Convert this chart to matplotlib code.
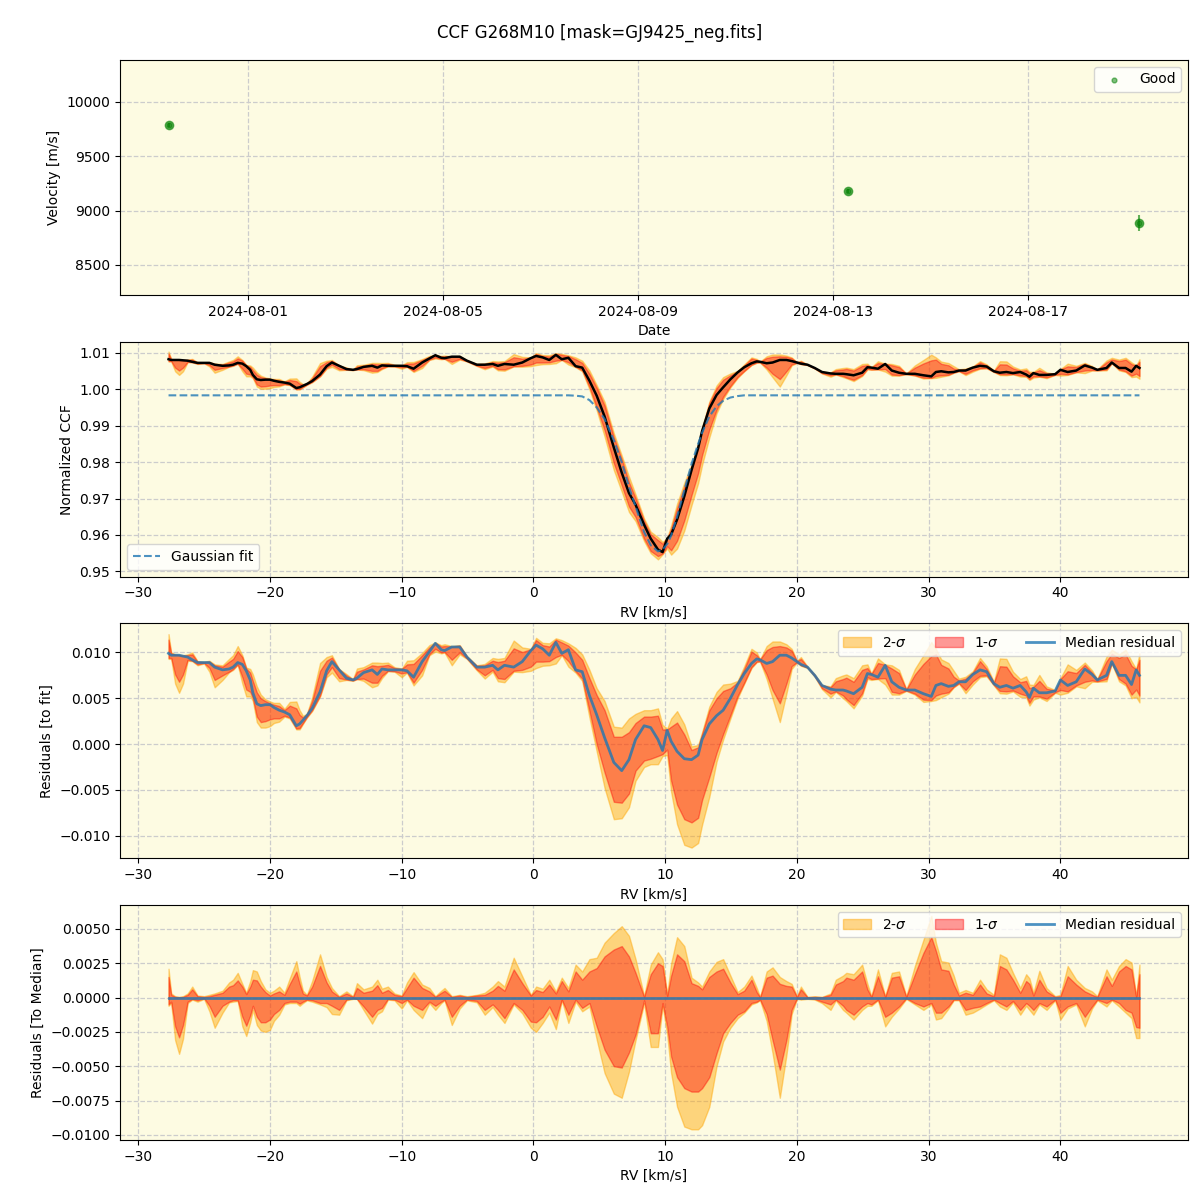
import datetime as dt
import matplotlib
matplotlib.use("Agg")
import matplotlib.pyplot as plt
import matplotlib.dates as mdates
import numpy as np

# ---- top panel: RV time series ----
obs_dates = [dt.datetime(2024, 7, 30, 8, 40), dt.datetime(2024, 8, 13, 7, 10), dt.datetime(2024, 8, 19, 6, 40)]
obs_vel = [9786, 9179, 8885]
obs_err = [20, 18, 72]

# ---- CCF profile (residual values in units of 1e-3) ----
rv = [-27.7, -27.5, -27.2, -26.9, -26.6, -26.25, -25.9, -25.5, -25.0, -24.6,
      -24.2, -23.6, -23.1, -22.8, -22.45, -22.1, -21.8, -21.5, -21.3, -21.0,
      -20.7, -20.35, -20.0, -19.7, -19.3, -18.9, -18.5, -18.0, -17.75, -17.5,
      -17.2, -16.8, -16.2, -15.7, -15.3, -14.75, -14.2, -13.7, -13.4, -12.9,
      -12.25, -11.85, -11.5, -11.05, -10.55, -10.0, -9.6, -9.1, -8.45, -7.9,
      -7.45, -7.0, -6.75, -6.2, -5.6, -5.05, -4.3, -3.7, -3.1, -2.7,
      -2.2, -1.5, -0.85, -0.2, 0.2, 0.7, 1.2, 1.7, 2.15, 2.65,
      3.2, 3.7, 4.25, 4.8, 5.4, 6.1, 6.7, 7.25, 7.75, 8.4,
      8.9, 9.45, 9.8, 10.15, 10.45, 10.9, 11.45, 12.0, 12.5, 12.8,
      13.35, 13.9, 14.4, 14.95, 15.5, 16.0, 16.55, 16.95, 17.2, 17.7,
      18.15, 18.7, 19.2, 19.6, 20.0, 20.3, 20.8, 21.35, 21.9, 22.55,
      22.95, 23.5, 23.75, 24.3, 24.95, 25.35, 25.65, 26.15, 26.7, 27.2,
      27.75, 28.3, 28.95, 29.6, 30.2, 30.55, 30.95, 31.5, 31.9, 32.3,
      32.8, 33.35, 33.9, 34.4, 34.95, 35.4, 35.9, 36.4, 36.95, 37.4,
      37.65, 37.95, 38.4, 38.95, 39.6, 40.0, 40.55, 41.2, 41.85, 42.4,
      42.8, 43.5, 43.9, 44.45, 44.95, 45.4, 45.75, 46.0]

# gaussian fit
gauss_fit = ([0.9983] * 70 +
             [0.9982, 0.9980, 0.9970, 0.9950, 0.9918, 0.9860, 0.9800, 0.9732, 0.9678, 0.9608,
              0.9572, 0.9555, 0.9560, 0.9575, 0.9598, 0.9650, 0.9722, 0.9795, 0.9850, 0.9880,
              0.9925, 0.9953, 0.9968, 0.9977, 0.9981] +
             [0.9983] * 63)

# median residual to the fit
resid_med = [9.9, 9.7, 9.7, 9.7, 9.6, 9.5, 9.2, 8.9, 8.9, 8.9,
             8.4, 8.1, 8.2, 8.4, 8.9, 8.7, 8.0, 7.0, 5.6, 4.4,
             4.2, 4.3, 4.3, 4.0, 3.7, 3.5, 3.2, 2.0, 2.2, 2.6,
             3.1, 3.9, 5.7, 8.0, 9.0, 8.1, 7.2, 7.0, 7.2, 7.8,
             8.1, 7.6, 8.2, 8.1, 8.1, 8.1, 8.0, 7.3, 9.0, 10.1,
             11.0, 10.3, 10.2, 10.6, 10.6, 9.5, 8.4, 8.4, 8.6, 8.1,
             8.6, 8.4, 9.0, 10.2, 10.8, 10.4, 9.7, 11.1, 9.9, 10.3,
             8.1, 7.9, 5.3, 3.2, 0.7, -2.0, -2.9, -1.7, 0.5, 2.0,
             1.8, 0.5, -0.7, 1.5, 0.3, -0.8, -1.6, -1.7, -1.2, 0.5,
             2.2, 3.1, 3.7, 5.0, 6.5, 7.7, 8.8, 9.3, 9.2, 8.8,
             9.0, 9.7, 9.7, 9.4, 9.0, 8.7, 8.4, 7.5, 6.4, 6.0,
             5.9, 5.9, 5.8, 5.5, 6.2, 7.7, 7.6, 7.3, 8.6, 6.8,
             6.2, 5.9, 5.9, 5.5, 5.2, 6.4, 6.6, 6.3, 6.4, 6.8,
             6.8, 7.6, 8.1, 7.9, 6.6, 6.2, 6.4, 6.1, 6.4, 5.7,
             5.1, 6.1, 5.6, 5.6, 5.8, 7.0, 6.4, 6.8, 8.2, 7.6,
             7.0, 7.5, 9.0, 7.5, 7.5, 6.5, 8.1, 7.5]

# percentile offsets relative to the median (bottom panel)
sig2_hi = [2.1, 0.3, 0.1, 0.05, 0.1, 0.3, 0.8, 0.15, 0.1, 0.2,
           0.3, 0.5, 1.1, 1.3, 1.8, 1.0, 0.35, 1.2, 2.0, 1.9,
           1.2, 0.6, 0.35, 0.5, 0.8, 0.35, 1.4, 2.65, 1.5, 0.5,
           0.2, 1.2, 3.15, 1.5, 0.7, 0.1, 0.45, 0.1, 1.05, 0.6,
           0.8, 1.3, 0.65, 0.8, 0.3, 0.15, 1.1, 1.85, 0.95, 0.7,
           0.1, 0.5, 0.7, 0.1, 0.2, 0.1, 0.2, 0.35, 0.8, 1.2,
           0.8, 2.9, 1.55, 0.2, 0.8, 0.65, 1.3, 0.45, 1.45, 0.7,
           2.4, 1.9, 2.8, 2.9, 4.0, 4.7, 5.2, 4.5, 2.8, 0.1,
           2.4, 3.3, 2.8, 0.2, 2.5, 4.4, 3.75, 1.45, 1.1, 0.8,
           1.9, 2.6, 2.8, 1.6, 0.4, 0.8, 1.6, 0.7, 0.05, 1.9,
           2.2, 1.5, 1.2, 1.0, 0.1, 0.8, 0.05, 0.1, 0.05, 0.3,
           1.3, 1.6, 1.8, 1.7, 2.4, 1.0, 0.1, 2.05, 0.1, 1.8,
           1.9, 0.1, 2.3, 4.2, 5.95, 4.0, 2.65, 2.55, 1.6, 0.35,
           0.55, 0.35, 1.3, 0.6, 0.2, 3.15, 2.9, 1.8, 0.7, 1.7,
           1.4, 0.35, 1.95, 0.7, 0.1, 0.2, 2.3, 1.3, 0.7, 0.45,
           0.1, 2.05, 1.3, 2.3, 2.8, 2.55, 0.1, 2.4]
sig1_hi = [1.5, 0.2, 0.05, 0.03, 0.05, 0.2, 0.6, 0.1, 0.05, 0.1,
           0.2, 0.35, 0.8, 0.9, 1.25, 0.8, 0.25, 0.8, 1.3, 1.25,
           0.8, 0.4, 0.15, 0.3, 0.45, 0.2, 1.0, 1.9, 1.0, 0.3,
           0.15, 0.8, 2.3, 1.1, 0.45, 0.05, 0.3, 0.05, 0.7, 0.35,
           0.5, 0.9, 0.35, 0.55, 0.2, 0.1, 0.7, 1.45, 0.7, 0.45,
           0.05, 0.35, 0.5, 0.05, 0.15, 0.05, 0.15, 0.2, 0.5, 0.85,
           0.5, 2.05, 1.05, 0.15, 0.55, 0.4, 0.95, 0.3, 1.2, 0.45,
           1.9, 1.3, 1.9, 2.15, 3.0, 3.5, 3.75, 3.0, 1.8, 0.05,
           1.7, 2.5, 2.3, 0.1, 1.6, 3.15, 2.65, 1.05, 0.85, 0.6,
           1.5, 1.9, 2.1, 1.1, 0.25, 0.5, 1.3, 0.4, 0.03, 1.45,
           1.6, 1.0, 0.85, 0.8, 0.05, 0.6, 0.03, 0.05, 0.03, 0.2,
           0.95, 1.2, 1.45, 1.3, 1.9, 0.6, 0.05, 1.55, 0.05, 1.45,
           1.55, 0.05, 1.7, 3.25, 4.4, 3.4, 2.05, 1.95, 0.95, 0.15,
           0.35, 0.2, 0.95, 0.3, 0.1, 2.3, 2.05, 1.3, 0.35, 1.2,
           1.0, 0.15, 1.3, 0.45, 0.05, 0.1, 1.55, 0.95, 0.45, 0.2,
           0.05, 1.55, 0.85, 1.9, 2.3, 2.05, 0.05, 1.7]
sig1_lo = [-0.5, -0.3, -2.1, -2.9, -2.0, -0.3, -0.1, -0.2, -0.05, -0.6,
           -1.4, -0.6, -0.3, -0.2, -0.2, -1.4, -2.05, -1.3, -0.6, -1.4,
           -1.8, -1.8, -1.6, -1.2, -0.9, -0.4, -0.3, -0.3, -0.45, -0.3,
           -0.15, -0.2, -0.4, -0.4, -0.6, -0.9, -0.15, -0.05, -0.1, -0.65,
           -1.4, -0.9, -0.75, -0.1, -0.15, -0.4, -0.15, -0.6, -0.9, -0.3,
           -0.6, -0.3, -0.15, -1.4, -0.6, -0.15, -0.25, -0.9, -0.5, -0.9,
           -1.5, -0.4, -0.9, -1.75, -1.8, -1.4, -0.65, -1.6, -0.15, -1.25,
           -0.15, -0.75, -0.4, -2.1, -3.8, -5.0, -5.1, -4.0, -2.7, -0.2,
           -2.6, -2.6, -0.4, -2.1, -4.3, -5.8, -6.6, -6.85, -6.85, -6.6,
           -5.8, -4.05, -2.6, -1.85, -1.25, -1.0, -0.4, -0.3, -0.15, -1.2,
           -3.1, -5.25, -3.1, -0.9, -0.05, -0.1, -0.05, -0.1, -0.3, -0.5,
           -0.15, -0.6, -0.9, -1.25, -0.65, -0.4, -0.5, -0.15, -1.4, -1.1,
           -0.65, -0.05, -0.4, -0.65, -0.4, -1.1, -1.1, -0.65, -0.15, -0.15,
           -0.9, -0.75, -0.65, -0.4, -0.15, -0.4, -0.65, -0.25, -0.9, -0.4,
           -0.6, -0.9, -0.4, -0.65, -0.15, -1.1, -0.65, -0.4, -1.4, -0.65,
           -0.15, -0.4, -0.15, -0.4, -0.9, -1.1, -2.15, -2.2]
sig2_lo = [-0.6, -0.4, -3.1, -4.1, -3.0, -0.4, -0.15, -0.3, -0.1, -1.0,
           -2.2, -1.1, -0.35, -0.3, -0.25, -2.1, -2.8, -1.8, -0.9, -2.0,
           -2.4, -2.5, -2.35, -1.7, -1.25, -0.5, -0.4, -0.4, -0.6, -0.4,
           -0.2, -0.3, -0.5, -0.7, -1.2, -1.25, -0.2, -0.1, -0.1, -0.9,
           -1.9, -1.2, -1.0, -0.15, -0.2, -0.8, -0.2, -0.9, -1.5, -0.4,
           -0.9, -0.4, -0.2, -2.0, -0.8, -0.2, -0.35, -1.25, -0.7, -1.25,
           -1.85, -0.5, -1.15, -2.2, -2.5, -1.85, -1.1, -2.3, -0.2, -1.85,
           -0.3, -1.0, -0.65, -3.05, -5.5, -7.0, -7.3, -5.4, -3.1, -0.4,
           -3.6, -3.6, -0.6, -2.7, -5.5, -7.95, -9.4, -9.6, -9.6, -9.3,
           -7.95, -5.0, -3.2, -2.2, -1.5, -1.1, -0.5, -0.35, -0.2, -1.7,
           -4.05, -7.3, -4.2, -1.2, -0.1, -0.15, -0.1, -0.15, -0.4, -0.9,
           -0.2, -0.9, -1.1, -1.6, -0.9, -0.6, -0.6, -0.2, -2.1, -1.4,
           -0.8, -0.1, -0.5, -0.9, -0.5, -1.6, -1.5, -0.8, -0.2, -0.2,
           -1.25, -1.1, -0.8, -0.5, -0.2, -0.65, -0.9, -0.35, -1.25, -0.6,
           -0.9, -1.25, -0.5, -0.9, -0.2, -1.6, -0.8, -0.5, -2.1, -0.8,
           -0.2, -0.65, -0.2, -0.65, -1.1, -1.5, -2.95, -2.95]

# in the line core (4.25 .. 9.8 km/s) the bands around the median residual
# differ from the bottom panel ones
core_sig2_hi = [2.8, 2.9, 4.0, 3.9, 4.7, 4.5, 2.8, 1.7, 1.9, 3.4, 2.8]
core_sig1_hi = [1.9, 2.15, 3.0, 2.8, 3.7, 3.0, 1.8, 1.0, 1.2, 2.6, 2.3]
core_sig1_lo = [-1.7, -3.2, -3.8, -4.3, -3.5, -3.7, -3.4, -3.8, -3.4, -1.8, -0.4]
core_sig2_lo = [-2.4, -4.0, -5.5, -6.2, -5.2, -5.2, -4.5, -4.5, -4.0, -2.7, -0.6]

fit_sig2_hi = sig2_hi[:72] + core_sig2_hi + sig2_hi[83:]
fit_sig1_hi = sig1_hi[:72] + core_sig1_hi + sig1_hi[83:]
fit_sig1_lo = sig1_lo[:72] + core_sig1_lo + sig1_lo[83:]
fit_sig2_lo = sig2_lo[:72] + core_sig2_lo + sig2_lo[83:]

rv = np.array(rv)
fit = np.array(gauss_fit)
med = np.array(resid_med) * 1e-3
hi2 = np.array(sig2_hi) * 1e-3
hi1 = np.array(sig1_hi) * 1e-3
lo1 = np.array(sig1_lo) * 1e-3
lo2 = np.array(sig2_lo) * 1e-3
f_hi2 = np.array(fit_sig2_hi) * 1e-3
f_hi1 = np.array(fit_sig1_hi) * 1e-3
f_lo1 = np.array(fit_sig1_lo) * 1e-3
f_lo2 = np.array(fit_sig2_lo) * 1e-3
assert len(rv) == len(fit) == len(med) == len(hi2) == len(hi1) == len(lo1) == len(lo2) == len(f_lo2)

ccf_med = fit + med

bg = "#fdfbe2"
c2 = "orange"
c1 = "red"
line_blue = "tab:blue"

fig = plt.figure(figsize=(12, 12), dpi=100)
axes = fig.subplots(4, 1)
fig.subplots_adjust(left=0.1, right=0.99, top=0.95, bottom=0.05, hspace=0.2)
fig.suptitle("CCF G268M10 [mask=GJ9425_neg.fits]", fontsize=12)

for ax in axes:
    ax.set_facecolor(bg)
    ax.grid(True, linestyle="--", color="#cccccc", linewidth=0.9)
    ax.set_axisbelow(True)

# panel 1 - velocities
ax = axes[0]
ax.errorbar(obs_dates, obs_vel, yerr=obs_err, fmt="o", color="green", alpha=0.6, ms=6)
ax.scatter(obs_dates, obs_vel, s=12, color="green", alpha=0.5, label="Good")
ax.set_ylim(8226, 10386)
ax.xaxis.set_major_locator(mdates.DayLocator(bymonthday=[1, 5, 9, 13, 17, 21, 25, 29]))
ax.xaxis.set_major_formatter(mdates.DateFormatter("%Y-%m-%d"))
ax.set_xlabel("Date")
ax.set_ylabel("Velocity [m/s]")
ax.legend(loc="upper right")

# panel 2 - CCF
ax = axes[1]
ax.fill_between(rv, ccf_med + f_lo2, ccf_med + f_hi2, color=c2, alpha=0.45)
ax.fill_between(rv, ccf_med + f_lo1, ccf_med + f_hi1, color=c1, alpha=0.4)
ax.plot(rv, ccf_med, color="black", lw=1.8)
ax.plot(rv, fit, "--", color=line_blue, alpha=0.8, lw=1.5, label="Gaussian fit")
ax.set_ylim(0.9486, 1.0130)
ax.set_xlabel("RV [km/s]")
ax.set_ylabel("Normalized CCF")
ax.legend(loc="lower left")

# panel 3 - residuals to fit
ax = axes[2]
ax.fill_between(rv, med + f_lo2, med + f_hi2, color=c2, alpha=0.45, label="2-$\\sigma$")
ax.fill_between(rv, med + f_lo1, med + f_hi1, color=c1, alpha=0.4, label="1-$\\sigma$")
ax.plot(rv, med, color=line_blue, alpha=0.8, lw=2, label="Median residual")
ax.set_xlabel("RV [km/s]")
ax.set_ylabel("Residuals [to fit]")
ax.legend(loc="upper right", ncol=3)

# panel 4 - residuals to median
ax = axes[3]
ax.fill_between(rv, lo2, hi2, color=c2, alpha=0.45, label="2-$\\sigma$")
ax.fill_between(rv, lo1, hi1, color=c1, alpha=0.4, label="1-$\\sigma$")
ax.plot(rv, med - med, color=line_blue, alpha=0.8, lw=2, label="Median residual")
ax.set_xlabel("RV [km/s]")
ax.set_ylabel("Residuals [To Median]")
ax.legend(loc="upper right", ncol=3)

fig.savefig("out.png", dpi=100)
